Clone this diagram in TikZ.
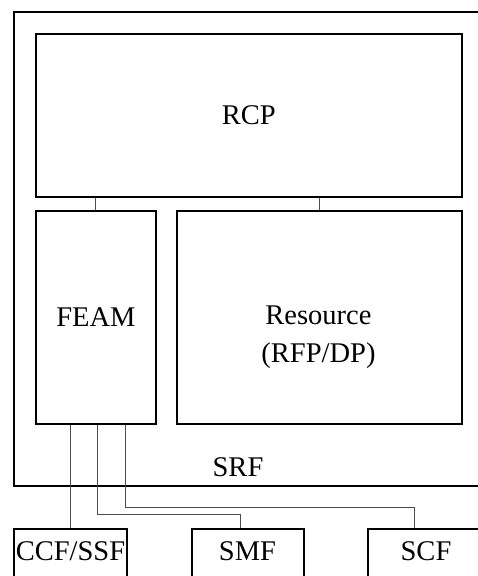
\documentclass[tikz,border=0pt]{standalone}
\usepackage{fontspec}
\setmainfont{Liberation Serif}
\usetikzlibrary{positioning}

\tikzset{
	blk/.style={draw, line width=1.8pt, inner sep=0pt, anchor=north west},
	link/.style={draw=black!70, line width=0.9pt},
	lbl/.style={inner sep=0pt, anchor=base}
}

\begin{document}
\begin{tikzpicture}[x=1pt, y=-1pt, font=\fontsize{28.5}{34}\selectfont]
	\useasboundingbox (0,0) rectangle (478,576);
	% SRF frame, its right side runs off the page
	\node[blk, minimum width=480pt, minimum height=474pt] (srf) at (13,11) {};
	\node[lbl] (srflbl) at (238,476.5) {SRF};
	% inner blocks
	\node[blk, minimum width=426pt, minimum height=163pt] (rcp) at (35,33) {RCP};
	\node[blk, minimum width=120pt, minimum height=213pt] (feam) at (35,210) {FEAM};
	\node[blk, minimum width=285pt, minimum height=213pt] (res) at (176,210) {};
	\node[lbl] (reslbl) at (318.5,324.5) {Resource};
	\node[lbl] (rfplbl) at (318.5,362) {(RFP/DP)};
	% outside functions
	\node[blk, minimum width=113pt, minimum height=70pt] (ccf) at (13,528) {};
	\node[lbl] (ccflbl) at (70.5,560) {CCF/SSF};
	\node[blk, minimum width=112pt, minimum height=70pt] (smf) at (191,528) {};
	\node[lbl] (smflbl) at (247.5,560) {SMF};
	\node[blk, minimum width=130pt, minimum height=70pt] (scf) at (367,528) {};
	\node[lbl] (scflbl) at (426,560) {SCF};
	% RCP to the lower blocks
	\draw[link] (feam.north) -- (feam.north |- rcp.south);
	\draw[link] (res.north) -- (res.north |- rcp.south);
	% FEAM to the outside
	\draw[link] (ccf.north) -- (ccf.north |- feam.south);
	\draw[link] ([xshift=2pt]feam.south) |- ([xshift=-7pt,yshift=14pt]smf.north) -- ([xshift=-7pt]smf.north);
	\draw[link] ([xshift=30pt]feam.south) |- ([xshift=-18pt,yshift=21pt]scf.north) -- ([xshift=-18pt]scf.north);
\end{tikzpicture}
\end{document}
